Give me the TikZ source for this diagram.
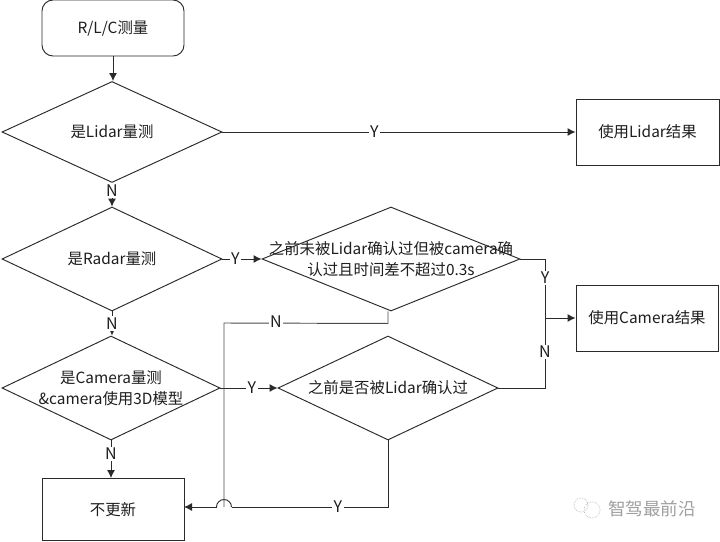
\documentclass[tikz,border=0pt]{standalone}
\usepackage{fontspec}
\setmainfont{Noto Sans CJK SC}
\usetikzlibrary{shapes.geometric,arrows.meta}
\definecolor{ln}{HTML}{2A2A2A}
\definecolor{tx}{HTML}{1E1E1E}
\tikzset{
  x=1pt,y=-1pt,
  every node/.style={font=\fontsize{15.4}{21}\selectfont,text=tx},
  flowbox/.style={draw=ln,line width=0.95pt,fill=white,inner sep=0pt},
  startbox/.style={flowbox,rounded corners=11pt},
  decision/.style={diamond,draw=ln,line width=0.95pt,fill=white,inner sep=0pt},
  conn/.style={draw=ln,line width=0.95pt},
  arrow/.style={conn,-{Latex[length=8pt,width=8pt]}},
  tag/.style={fill=white,inner sep=1.5pt,font=\fontsize{16}{18}\selectfont},
}
\begin{document}
\begin{tikzpicture}
\useasboundingbox (0,0) rectangle (720,541);
\fill[white] (0,0) rectangle (720,541);

\node[startbox,minimum width=142pt,minimum height=56pt] (start) at (113,28) {R/L/C测量};
\node[decision,minimum width=220pt,minimum height=101pt,label=center:{是Lidar量测}] (d1) at (112,132) {};
\node[flowbox,minimum width=143pt,minimum height=66pt] (lidar) at (647.5,132) {使用Lidar结果};
\node[decision,minimum width=220pt,minimum height=104pt,label=center:{是Radar量测}] (d2) at (112,259) {};
\node[decision,minimum width=258pt,minimum height=104pt,label={[align=center]center:{之前未被Lidar确认过但被camera确\\认过且时间差不超过0.3s}}] (d3) at (391,259) {};
\node[decision,minimum width=218pt,minimum height=104pt,label={[align=center]center:{是Camera量测\\\&camera使用3D模型}}] (d4) at (111,388) {};
\node[decision,minimum width=220pt,minimum height=104pt,label=center:{之前是否被Lidar确认过}] (d5) at (388,388) {};
\node[flowbox,minimum width=142pt,minimum height=66pt] (camera) at (647,318) {使用Camera结果};
\node[flowbox,minimum width=142pt,minimum height=62pt] (none) at (113,509.5) {不更新};

\coordinate (noneIn) at (184,507);
\coordinate (merge) at (545,318);
\coordinate (upTurn) at (224,323);
\coordinate (jumpR) at (231.5,507);
\coordinate (jumpL) at (216.5,507);
\coordinate (jumpMid) at (224,507);

\draw[arrow] (start.south) -- (start.south |- d1.north);
\draw[arrow] (d1.east) -- (lidar.west) node[tag,pos=0.43] {Y};
\draw[arrow] (d1.south) -- (d2.north) node[tag,pos=0.33] {N};
\draw[arrow] (d2.east) -- (d3.west) node[tag,pos=0.33] {Y};
\draw[arrow] (d2.south) -- (d2.south |- d4.north) node[tag,pos=0.5] {N};
\draw[arrow] (d4.east) -- (d5.west) node[tag,pos=0.55] {Y};
\draw[arrow] (d4.south) -- (d4.south |- none.north) node[tag,pos=0.36] {N};
\draw[conn] (d3.east) -| (merge) node[tag,pos=0.66] {Y};
\draw[conn] (d5.east) -| (merge) node[tag,pos=0.757] {N};
\draw[arrow] (merge) -- (camera.west);
\draw[conn] (d5.south) |- (jumpR) node[tag,pos=0.66] {Y};
\draw[conn] (jumpR) arc (0:-180:7.5);
\draw[arrow] (jumpL) -- (noneIn);
\draw[conn,draw=ln!85] (d3.south) ++(-3,0) -- ++(0,12) -- (upTurn) -- (jumpMid);
\node[tag] (ntag) at (276,322) {N};

% watermark
\draw[gray!50,line width=0.7pt,densely dotted] (592,510) circle (8) (581,505) circle (7);
\node[text=gray!75,font=\fontsize{17.5}{20}\selectfont] (mark) at (652,509) {智驾最前沿};
\end{tikzpicture}
\end{document}
